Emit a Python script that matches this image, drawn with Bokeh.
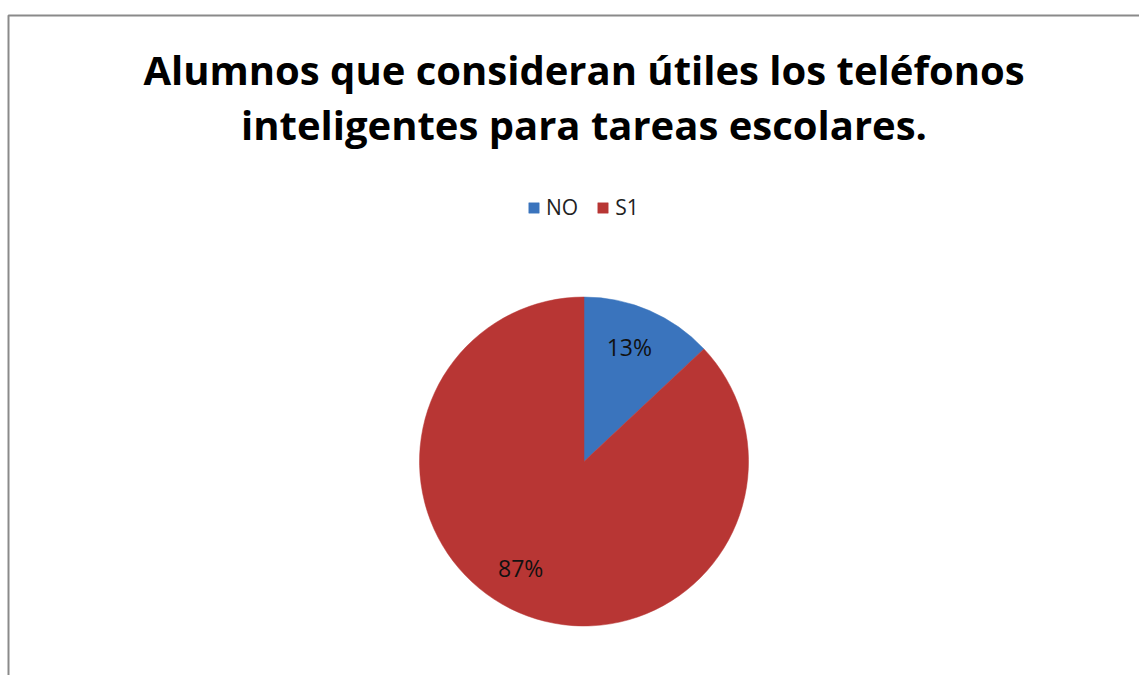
import math
from bokeh.plotting import figure
from bokeh.models import Range1d, Legend, LegendItem
from bokeh.core.properties import value
from bokeh.embed import file_html
from bokeh.resources import INLINE

# ---- data ----
categories = ["NO", "S1"]
values = [13, 87]
colors = ["#3A74BD", "#B83634"]
title_lines = ["Alumnos que consideran útiles los teléfonos",
               "inteligentes para tareas escolares."]

# ---- layout (data coords = canvas pixels, y measured upward) ----
W, H = 1139, 675
def Y(py):
    return H - py

p = figure(width=W, height=H, output_backend="svg", toolbar_location=None,
           x_range=Range1d(0, W), y_range=Range1d(0, H), min_border=0)
p.axis.visible = False
p.xgrid.visible = False
p.ygrid.visible = False
p.outline_line_color = None
p.background_fill_color = "white"
p.border_fill_color = "white"

# chart-area border (cropped at right/bottom)
p.line(x=[8, 8, 1200], y=[Y(720), Y(15), Y(15)], line_color="#8a8a8a", line_width=2)

# pie
cx, cy, r = 583.5, Y(461), 164.5
total = sum(values)
angles = []
start = math.pi / 2
for v in values:
    sweep = 2 * math.pi * v / total
    end = start - sweep
    angles.append((end, start))
    start = end

renderers = []
for (a0, a1), c in zip(angles, colors):
    rr = p.wedge(x=cx, y=cy, radius=r, start_angle=a0, end_angle=a1,
                 direction="anticlock", fill_color=c, line_color=c, line_width=0.5)
    renderers.append(rr)

# percentage labels (placed along slice mid-angle, with small layout nudges)
nudges = [(-3, 3), (-15, 5)]
lx, ly, lt = [], [], []
for (a0, a1), v, (dx, dy) in zip(angles, values, nudges):
    mid = (a0 + a1) / 2
    lx.append(cx + 0.74 * r * math.cos(mid) + dx)
    ly.append(cy + 0.74 * r * math.sin(mid) + dy)
    lt.append(f"{round(100 * v / total)}%")
p.text(x=lx, y=ly, text=lt, text_align="center", text_baseline="middle",
       text_font=value("Open Sans"), text_font_size="23px", text_color="#111111")

# title
p.text(x=[583.5, 583.5], y=[Y(69), Y(124)], text=title_lines,
       text_align="center", text_baseline="alphabetic",
       text_font=value("Open Sans"), text_font_style="bold",
       text_font_size="40px", text_color="#000000")

# legend
legend = Legend(items=[LegendItem(label=c, renderers=[rr]) for c, rr in zip(categories, renderers)],
                orientation="horizontal", location=(527, 454),
                label_text_font="Open Sans", label_text_font_size="21px",
                label_text_color="#222222",
                glyph_width=13, glyph_height=13, label_standoff=6, spacing=18,
                padding=0, margin=0, border_line_color=None,
                background_fill_alpha=0)
p.add_layout(legend, "center")

open("out.html", "w").write(file_html(p, INLINE))
